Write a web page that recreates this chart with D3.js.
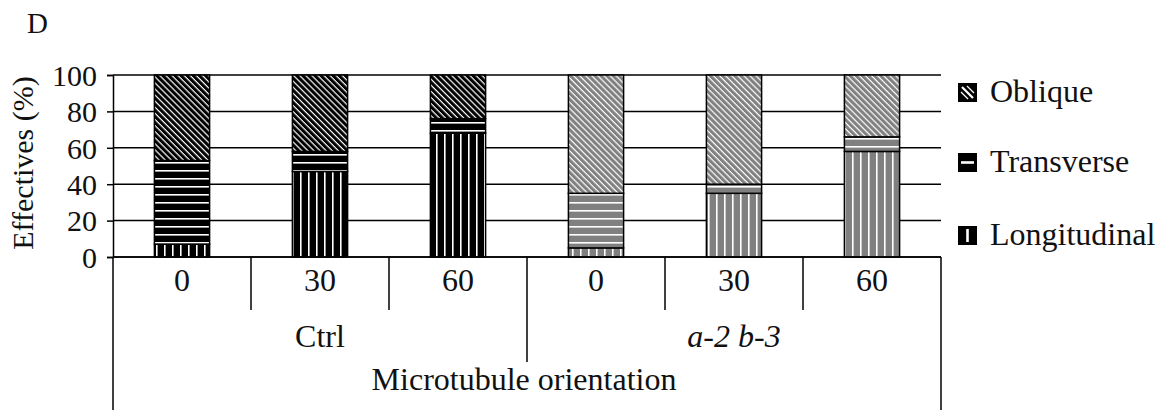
<!DOCTYPE html>
<html>
<head>
<meta charset="utf-8">
<script src="https://cdn.jsdelivr.net/npm/d3@7"></script>
<style>
  html, body { margin: 0; padding: 0; background: #fff; }
  svg { display: block; font-family: "Liberation Serif", "DejaVu Serif", serif; }
</style>
</head>
<body>
<svg id="chart" width="1164" height="410"></svg>
<script>
// ---- data ----
const categories = ["Ctrl-0", "Ctrl-30", "Ctrl-60", "a2b3-0", "a2b3-30", "a2b3-60"];
const timeLabels = ["0", "30", "60", "0", "30", "60"];
const groupOf = ["Ctrl", "Ctrl", "Ctrl", "a-2 b-3", "a-2 b-3", "a-2 b-3"];
const groups = ["Ctrl", "a-2 b-3"];
const seriesNames = ["Longitudinal", "Transverse", "Oblique"];
const longitudinal = [7, 47, 68, 5, 35, 58];
const transverse = [46, 11, 8, 30, 5, 8];
const oblique = [47, 42, 24, 65, 60, 34];
const yTicks = [0, 20, 40, 60, 80, 100];
const legendOrder = ["Oblique", "Transverse", "Longitudinal"];

// ---- layout ----
const svg = d3.select("#chart");
const mLeft = 113, mRight = 941, mTop = 75, mBottom = 257;
const FS = 32;
const x = d3.scaleBand().domain(categories).range([mLeft, mRight]).paddingInner(0.6).paddingOuter(0.3);
const xCell = d3.scaleBand().domain(categories).range([mLeft, mRight]).padding(0);
const y = d3.scaleLinear().domain([0, 100]).range([mBottom, mTop]);

// ---- patterns ----
const defs = svg.append("defs");
function makePatterns(key, color) {
  let p = defs.append("pattern").attr("id", `obl-${key}`).attr("patternUnits", "userSpaceOnUse")
    .attr("width", 8).attr("height", 4.3).attr("patternTransform", "rotate(45)");
  p.append("rect").attr("width", 8).attr("height", 4.3).attr("fill", color);
  p.append("rect").attr("y", 0).attr("width", 8).attr("height", 1.2).attr("fill", "#fff");
  p = defs.append("pattern").attr("id", `tra-${key}`).attr("patternUnits", "userSpaceOnUse")
    .attr("width", 8).attr("height", 8).attr("y", 2);
  p.append("rect").attr("width", 8).attr("height", 8).attr("fill", color);
  p.append("rect").attr("y", 0).attr("width", 8).attr("height", 1.6).attr("fill", "#fff");
  p = defs.append("pattern").attr("id", `lon-${key}`).attr("patternUnits", "userSpaceOnUse")
    .attr("width", 8).attr("height", 8).attr("x", 4);
  p.append("rect").attr("width", 8).attr("height", 8).attr("fill", color);
  p.append("rect").attr("x", 0).attr("width", 1.6).attr("height", 8).attr("fill", "#fff");
}
makePatterns("ctrl", "#000");
makePatterns("mut", "#808080");

const patKey = { "Longitudinal": "lon", "Transverse": "tra", "Oblique": "obl" };

// ---- gridlines ----
svg.append("g").selectAll("line").data(yTicks).join("line")
  .attr("x1", mLeft).attr("x2", mRight)
  .attr("y1", d => y(d)).attr("y2", d => y(d))
  .attr("stroke", "#000").attr("stroke-width", 1.5);

// ---- y axis ----
const yAxis = d3.axisLeft(y).tickValues(yTicks).tickSize(6).tickPadding(10);
const gy = svg.append("g").attr("transform", `translate(${mLeft},0)`).call(yAxis);
gy.attr("font-family", null).attr("font-size", null);
gy.select(".domain").attr("stroke", "#000").attr("stroke-width", 1.5);
gy.selectAll(".tick line").attr("stroke", "#000").attr("stroke-width", 1.5);
gy.selectAll(".tick text").attr("font-size", 30).attr("fill", "#111").attr("dy", "0.34em");

// ---- bars ----
const stack = d3.stack().keys(seriesNames)(categories.map((c, i) => ({
  cat: c, Longitudinal: longitudinal[i], Transverse: transverse[i], Oblique: oblique[i]
})));
const bars = svg.append("g");
stack.forEach(layer => {
  bars.selectAll(null).data(layer).join("rect")
    .attr("x", d => x(d.data.cat))
    .attr("width", x.bandwidth())
    .attr("y", d => y(d[1]))
    .attr("height", d => y(d[0]) - y(d[1]))
    .attr("fill", d => `url(#${patKey[layer.key]}-${groupOf[categories.indexOf(d.data.cat)] === "Ctrl" ? "ctrl" : "mut"})`)
    .attr("stroke", "#000").attr("stroke-width", 1.5);
});

// ---- bottom table ----
const tbl = svg.append("g").attr("stroke", "#000").attr("stroke-width", 1.5);
tbl.append("line").attr("x1", mLeft).attr("x2", mRight).attr("y1", mBottom).attr("y2", mBottom);
tbl.append("line").attr("x1", mLeft).attr("x2", mLeft).attr("y1", mBottom).attr("y2", 410);
tbl.append("line").attr("x1", mRight).attr("x2", mRight).attr("y1", mBottom).attr("y2", 410);
const dividers = categories.slice(1).map((c, i) => ({ x: xCell(c), long: groupOf[i] !== groupOf[i + 1] }));
tbl.selectAll(".div").data(dividers).join("line")
  .attr("x1", d => d.x).attr("x2", d => d.x)
  .attr("y1", mBottom).attr("y2", d => d.long ? 362 : 310);

svg.append("g").selectAll("text").data(categories).join("text")
  .attr("x", d => xCell(d) + xCell.bandwidth() / 2)
  .attr("y", 291)
  .attr("text-anchor", "middle").attr("font-size", FS).attr("fill", "#111")
  .text((d, i) => timeLabels[i]);

svg.append("g").selectAll("text").data(groups).join("text")
  .attr("x", g => {
    const cs = categories.filter((c, i) => groupOf[i] === g);
    return (xCell(cs[0]) + xCell(cs[cs.length - 1]) + xCell.bandwidth()) / 2;
  })
  .attr("y", 347)
  .attr("text-anchor", "middle").attr("font-size", FS).attr("fill", "#111")
  .attr("font-style", g => g === "Ctrl" ? "normal" : "italic")
  .text(g => g);

svg.append("text").attr("x", 524).attr("y", 390)
  .attr("text-anchor", "middle").attr("font-size", FS).attr("fill", "#111")
  .text("Microtubule orientation");

// ---- y label ----
svg.append("text").attr("transform", `translate(33,163) rotate(-90)`)
  .attr("text-anchor", "middle").attr("font-size", 30).attr("fill", "#111")
  .text("Effectives (%)");

// ---- panel letter ----
svg.append("text").attr("x", 27).attr("y", 33).attr("font-size", 29).attr("fill", "#111").text("D");

// ---- legend ----
const legBase = [102, 172, 245];
const sw = 19;
const leg = svg.append("g").selectAll("g").data(legendOrder).join("g")
  .attr("transform", (d, i) => `translate(958,${legBase[i]})`);
leg.append("rect").attr("x", 0).attr("y", -sw).attr("width", sw).attr("height", sw).attr("fill", "#000");
leg.each(function (d) {
  const g = d3.select(this);
  const t = -sw;
  const wl = g.append("g").attr("stroke", "#fff").attr("stroke-width", 2.2);
  if (d === "Oblique") {
    wl.append("line").attr("x1", 4).attr("y1", t + 4).attr("x2", sw - 4).attr("y2", t + sw - 4);
    wl.append("line").attr("x1", 9).attr("y1", t + 3).attr("x2", sw - 3).attr("y2", t + sw - 9).attr("stroke-width", 1.2);
    wl.append("line").attr("x1", 3).attr("y1", t + 9).attr("x2", sw - 9).attr("y2", t + sw - 3).attr("stroke-width", 1.2);
  } else if (d === "Transverse") {
    wl.append("line").attr("x1", 3).attr("x2", sw - 3).attr("y1", t + sw / 2).attr("y2", t + sw / 2).attr("stroke-width", 2.6);
  } else {
    wl.append("line").attr("x1", sw / 2).attr("x2", sw / 2).attr("y1", t + 3).attr("y2", t + sw - 3).attr("stroke-width", 2.6);
  }
});
leg.append("text").attr("x", 32).attr("y", 0).attr("font-size", FS).attr("fill", "#111").text(d => d);
</script>
</body>
</html>
